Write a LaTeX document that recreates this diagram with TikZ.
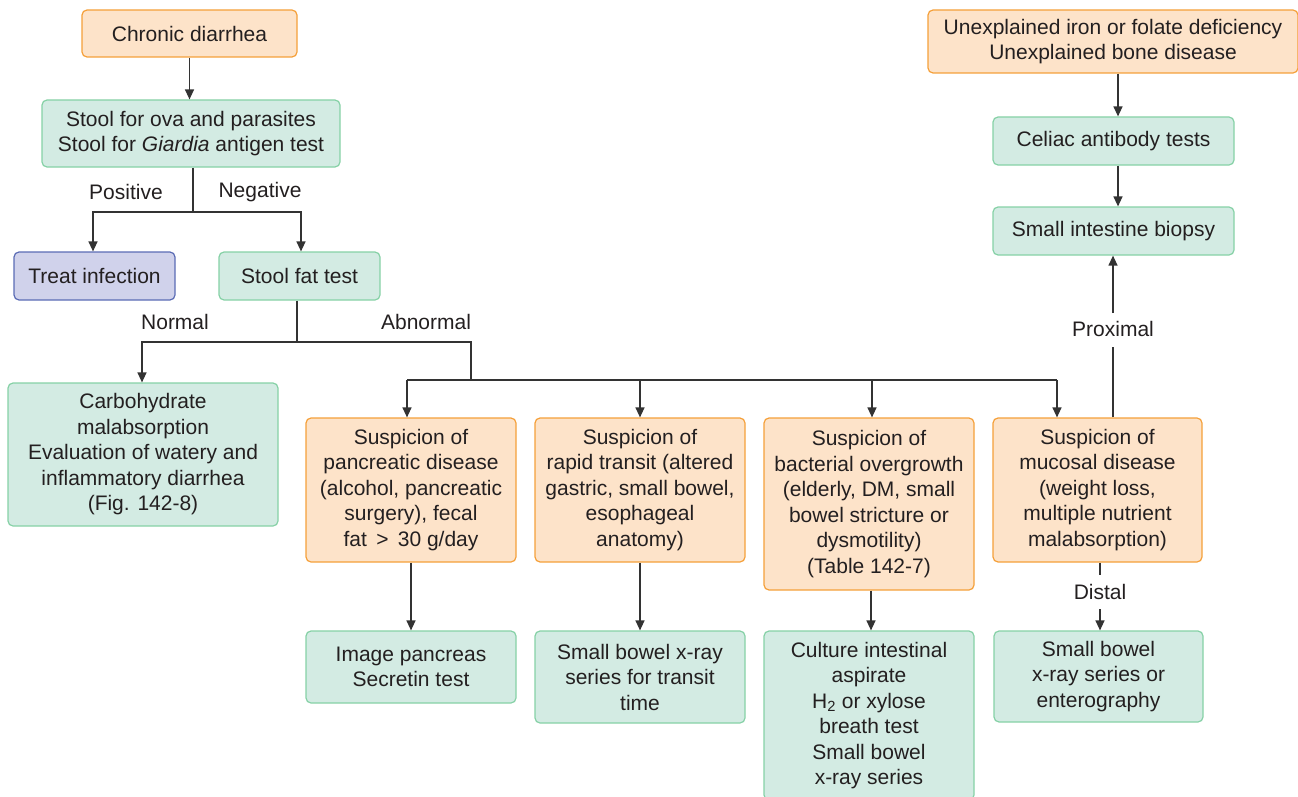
\documentclass[tikz,border=0pt]{standalone}
\usepackage{fontspec}
\setmainfont{Liberation Sans}
\usetikzlibrary{arrows.meta}
\definecolor{obox}{HTML}{FDE3C9}
\definecolor{oline}{HTML}{F5A03A}
\definecolor{gbox}{HTML}{D3EBE3}
\definecolor{gline}{HTML}{86D1A6}
\definecolor{bbox}{HTML}{D0D2EB}
\definecolor{bline}{HTML}{5B6CB5}
\definecolor{txt}{HTML}{231F20}
\definecolor{conn}{HTML}{333333}
\tikzset{
  base/.style={draw, rounded corners=5pt, line width=1.2pt, inner sep=0pt, align=center,
    text=txt, font=\fontsize{21}{25.5}\selectfont},
  obx/.style={base, fill=obox, draw=oline},
  gbx/.style={base, fill=gbox, draw=gline},
  bbx/.style={base, fill=bbox, draw=bline},
  sz/.style n args={2}{minimum width=#1pt, minimum height=#2pt},
  link/.style={draw=conn, line width=1.3pt},
  arr/.style={link, -{Triangle[length=10pt,width=9pt]}},
  lbl/.style={text=txt, font=\fontsize{21}{25.5}\selectfont, inner sep=0pt}
}
\begin{document}
\begin{tikzpicture}[x=1pt,y=-1pt]
\useasboundingbox (0,0) rectangle (1298,797);
\clip (0,0) rectangle (1298,797);
% nodes
\node[obx, sz={215}{47}] (chronic) at (189.5,33.5) {Chronic diarrhea};
\node[gbx, sz={298}{67}] (stool) at (191,133.5) {Stool for ova and parasites\\Stool for \textit{Giardia} antigen test};
\node[bbx, sz={161}{48}] (treat) at (94.5,276) {Treat infection};
\node[gbx, sz={161}{48}] (fat) at (299.5,276) {Stool fat test};
\node[gbx, sz={270}{143}] (carb) at (143,454.5) {Carbohydrate\\malabsorption\\Evaluation of watery and\\inflammatory diarrhea\\(Fig. 142-8)};
\node[obx, sz={210}{144}] (panc) at (411,490) {Suspicion of\\pancreatic disease\\(alcohol, pancreatic\\surgery), fecal\\fat \,>\, 30 g/day};
\node[obx, sz={210}{144}] (rapid) at (640,490) {Suspicion of\\rapid transit (altered\\gastric, small bowel,\\esophageal\\anatomy)};
\node[obx, sz={210}{172}] (bact) at (869,504) {Suspicion of\\bacterial overgrowth\\(elderly, DM, small\\bowel stricture or\\dysmotility)\\(Table 142-7)};
\node[obx, sz={209}{144}] (muc) at (1097.5,490) {Suspicion of\\mucosal disease\\(weight loss,\\multiple nutrient\\malabsorption)};
\node[gbx, sz={210}{72}] (img) at (411,667) {Image pancreas\\Secretin test};
\node[gbx, sz={210}{92}] (sbx) at (640,677) {Small bowel x-ray\\series for transit\\time};
\node[gbx, sz={210}{169}] (cult) at (869,715.5) {Culture intestinal\\aspirate\\H\textsubscript{2} or xylose\\breath test\\Small bowel\\x-ray series};
\node[gbx, sz={209}{91}] (sbe) at (1098.5,676.5) {Small bowel\\x-ray series or\\enterography};
\node[obx, sz={370}{63}] (unexp) at (1113,41.5) {Unexplained iron or folate deficiency\\Unexplained bone disease};
\node[gbx, sz={241}{48}] (celiac) at (1113.5,141) {Celiac antibody tests};
\node[gbx, sz={241}{48}] (biopsy) at (1113.5,231) {Small intestine biopsy};
% labels
\node[lbl] (pos) at (126,192) {Positive};
\node[lbl] (neg) at (260,192) {Negative};
\node[lbl] (nor) at (175,322) {Normal};
\node[lbl] (abn) at (426,322) {Abnormal};
\node[lbl] (prox) at (1113,329) {Proximal};
\node[lbl] (dist) at (1100,592) {Distal};
% coordinates
\coordinate (s1) at (193,212);
\coordinate (f1) at (297,342);
\coordinate (a1) at (471,380);
\coordinate (m1) at (1057,380);
% connectors
\draw[arr] (chronic.south) -- (chronic.south |- stool.north);
\draw[link] (stool.south -| s1) -- (s1);
\draw[arr] (s1) -| ([xshift=-1.5pt]treat.north);
\draw[arr] (s1) -| ([xshift=1.5pt]fat.north);
\draw[link] (fat.south -| f1) -- (f1);
\draw[arr] (f1) -| ([xshift=-1pt]carb.north);
\draw[link] (f1) -| (a1);
\draw[arr] ([xshift=-4pt]panc.north |- a1) -- ([xshift=-4pt]panc.north);
\draw[link] ([xshift=-4pt]panc.north |- a1) -- (m1);
\draw[arr] (rapid.north |- a1) -- (rapid.north);
\draw[arr] ([xshift=3pt]bact.north |- a1) -- ([xshift=3pt]bact.north);
\draw[arr] (m1) -- (m1 |- muc.north);
\draw[arr] (panc.south) -- (img.north);
\draw[arr] (rapid.south) -- (sbx.north);
\draw[arr] ([xshift=2pt]bact.south) -- ([xshift=2pt]bact.south |- cult.north);
\draw[link] (muc.north -| prox) -- ([yshift=-18pt]prox.center);
\draw[arr] ([yshift=16pt]prox.center) -- (prox |- biopsy.south);
\draw[link] (muc.south -| dist) -- ([yshift=17pt]dist.center);
\draw[arr] ([yshift=-17pt]dist.center) -- (dist |- sbe.north);
\draw[arr] ([xshift=5pt]unexp.south) -- ([xshift=5pt]unexp.south |- celiac.north);
\draw[arr] ([xshift=4.5pt]celiac.south) -- ([xshift=4.5pt]celiac.south |- biopsy.north);
\end{tikzpicture}
\end{document}
